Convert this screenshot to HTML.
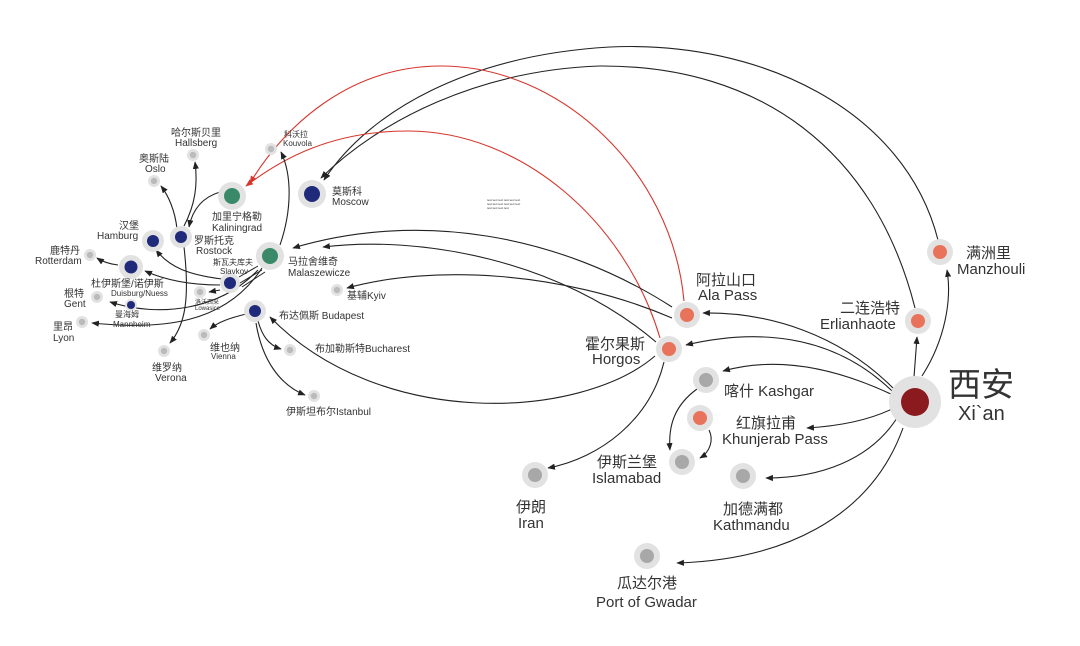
<!DOCTYPE html>
<html><head><meta charset="utf-8"><style>
html,body{margin:0;padding:0;background:#fff;}
svg{display:block;font-family:"Liberation Sans","Noto Sans CJK SC",sans-serif;}
.e{fill:none;stroke:#222;stroke-width:1.1;marker-end:url(#a);}
.r{fill:none;stroke:#d6362c;stroke-width:1.1;marker-end:url(#ar);}
.o{fill:#e2e2e2;}
text{fill:#333;}
</style></head><body>
<svg width="1080" height="646" viewBox="0 0 1080 646" xmlns="http://www.w3.org/2000/svg">
<defs>
<marker id="a" viewBox="0 0 10 10" refX="9" refY="5" markerWidth="7" markerHeight="7" orient="auto"><path d="M0,1 L10,5 L0,9 z" fill="#222"/></marker>
<marker id="ar" viewBox="0 0 10 10" refX="9" refY="5" markerWidth="7" markerHeight="7" orient="auto"><path d="M0,1 L10,5 L0,9 z" fill="#d6362c"/></marker>
</defs>

<!-- long arcs -->
<path class="e" d="M938,240 C905,110 760,40 610,47 C470,55 370,110 324,180"/>
<path class="e" d="M915,308 C875,150 760,65 600,66 C480,70 380,120 321,178"/>
<path class="r" d="M684,301 C672,170 560,66 441,66 C350,66 285,125 250,183"/>
<path class="r" d="M660,338 C625,220 520,131 408,131 C330,131 280,160 246,186"/>

<!-- Xi'an edges -->
<path class="e" d="M893,388 C840,335 770,312 703,313"/>
<path class="e" d="M893,392 C830,330 750,330 686,345"/>
<path class="e" d="M893,395 C840,370 780,355 723,371"/>
<path class="e" d="M894,408 C870,420 840,426 807,428"/>
<path class="e" d="M897,418 C870,460 820,478 766,478"/>
<path class="e" d="M903,428 C870,520 780,560 677,563"/>
<path class="e" d="M914,377 L917,337"/>
<path class="e" d="M922,376 C945,340 952,300 947,270"/>

<!-- Horgos / Ala to Europe -->
<path class="e" d="M672,307 C560,235 420,210 293,248"/>
<path class="e" d="M656,342 C560,260 420,235 323,247"/>
<path class="e" d="M672,318 C560,270 430,265 347,288"/>
<path class="e" d="M655,356 C580,420 380,430 270,317"/>
<path class="e" d="M664,362 C650,420 600,458 548,468"/>
<path class="e" d="M697,389 C675,405 668,425 670,450"/>
<path class="e" d="M709,430 C714,440 710,452 700,458"/>

<!-- Europe edges -->
<path class="e" d="M280,245 C292,210 292,175 281,152"/>
<path class="e" d="M220,192 C200,198 192,212 189,227"/>
<path class="e" d="M177,229 C175,210 168,195 161,186"/>
<path class="e" d="M184,226 C195,205 198,185 195,162"/>
<path class="e" d="M184,247 C190,300 185,325 170,343"/>
<path class="e" d="M222,279 C190,275 170,268 156,250"/>
<path class="e" d="M220,285 C190,285 165,280 145,271"/>
<path class="e" d="M118,265 C110,264 103,262 97,258"/>
<path class="e" d="M258,270 C220,310 160,318 110,302"/>
<path class="e" d="M262,268 C225,325 160,330 92,323"/>
<path class="e" d="M220,290 L209,292"/>
<path fill="none" stroke="#222" stroke-width="1" d="M258,266 L239,277 M262,270 L240,283 M265,272 L242,287"/>
<path class="e" d="M246,314 C230,318 218,322 210,329"/>
<path class="e" d="M258,321 C262,335 268,345 281,349"/>
<path class="e" d="M256,323 C262,360 280,385 305,395"/>

<!-- nodes -->
<circle class="o" cx="915" cy="402" r="26"/><circle cx="915" cy="402" r="14" fill="#8b1a1f"/>
<circle class="o" cx="940" cy="252" r="13"/><circle cx="940" cy="252" r="7" fill="#e8735a"/>
<circle class="o" cx="918" cy="321" r="13"/><circle cx="918" cy="321" r="7" fill="#e8735a"/>
<circle class="o" cx="687" cy="315" r="13"/><circle cx="687" cy="315" r="7" fill="#e8735a"/>
<circle class="o" cx="669" cy="349" r="13"/><circle cx="669" cy="349" r="7" fill="#e8735a"/>
<circle class="o" cx="706" cy="380" r="13"/><circle cx="706" cy="380" r="7" fill="#a8a8a8"/>
<circle class="o" cx="700" cy="418" r="13"/><circle cx="700" cy="418" r="7" fill="#e8735a"/>
<circle class="o" cx="682" cy="462" r="13"/><circle cx="682" cy="462" r="7" fill="#a8a8a8"/>
<circle class="o" cx="743" cy="476" r="13"/><circle cx="743" cy="476" r="7" fill="#a8a8a8"/>
<circle class="o" cx="535" cy="475" r="13"/><circle cx="535" cy="475" r="7" fill="#a8a8a8"/>
<circle class="o" cx="647" cy="556" r="13"/><circle cx="647" cy="556" r="7" fill="#a8a8a8"/>

<circle class="o" cx="312" cy="194" r="14"/><circle cx="312" cy="194" r="8" fill="#1f2a7a"/>
<circle class="o" cx="232" cy="196" r="14"/><circle cx="232" cy="196" r="8" fill="#3a8a6a"/>
<circle class="o" cx="270" cy="256" r="14"/><circle cx="270" cy="256" r="8" fill="#3a8a6a"/>
<circle class="o" cx="181" cy="237" r="11"/><circle cx="181" cy="237" r="6" fill="#1f2a7a"/>
<circle class="o" cx="153" cy="241" r="11"/><circle cx="153" cy="241" r="6" fill="#1f2a7a"/>
<circle class="o" cx="131" cy="267" r="12"/><circle cx="131" cy="267" r="6.5" fill="#1f2a7a"/>
<circle class="o" cx="230" cy="283" r="10"/><circle cx="230" cy="283" r="6" fill="#1f2a7a"/>
<circle class="o" cx="255" cy="311" r="11"/><circle cx="255" cy="311" r="6" fill="#1f2a7a"/>
<circle class="o" cx="131" cy="305" r="6"/><circle cx="131" cy="305" r="4" fill="#1f2a7a"/>
<g fill="#bbb">
<circle class="o" cx="90" cy="255" r="6"/><circle cx="90" cy="255" r="3.2"/>
<circle class="o" cx="200" cy="292" r="6"/><circle cx="200" cy="292" r="3.2"/>
<circle class="o" cx="97" cy="297" r="6"/><circle cx="97" cy="297" r="3.2"/>
<circle class="o" cx="82" cy="322" r="6"/><circle cx="82" cy="322" r="3.2"/>
<circle class="o" cx="337" cy="290" r="6"/><circle cx="337" cy="290" r="3.2"/>
<circle class="o" cx="204" cy="335" r="6"/><circle cx="204" cy="335" r="3.2"/>
<circle class="o" cx="290" cy="350" r="6"/><circle cx="290" cy="350" r="3.2"/>
<circle class="o" cx="314" cy="396" r="6"/><circle cx="314" cy="396" r="3.2"/>
<circle class="o" cx="164" cy="351" r="6"/><circle cx="164" cy="351" r="3.2"/>
<circle class="o" cx="154" cy="181" r="6"/><circle cx="154" cy="181" r="3.2"/>
<circle class="o" cx="193" cy="155" r="6"/><circle cx="193" cy="155" r="3.2"/>
<circle class="o" cx="271" cy="149" r="6"/><circle cx="271" cy="149" r="3.2"/>
</g>

<!-- labels -->
<g font-size="33"><text x="948" y="396">西安</text></g>
<g font-size="20"><text x="958" y="420">Xi`an</text></g>
<g font-size="15">
<text x="966" y="258">满洲里</text><text x="957" y="274">Manzhouli</text>
<text x="840" y="313">二连浩特</text><text x="820" y="329">Erlianhaote</text>
<text x="696" y="285">阿拉山口</text><text x="698" y="300">Ala Pass</text>
<text x="585" y="349">霍尔果斯</text><text x="592" y="364">Horgos</text>
<text x="724" y="396">喀什 Kashgar</text>
<text x="736" y="428">红旗拉甫</text><text x="722" y="444">Khunjerab Pass</text>
<text x="597" y="467">伊斯兰堡</text><text x="592" y="483">Islamabad</text>
<text x="516" y="512">伊朗</text><text x="518" y="528">Iran</text>
<text x="723" y="514">加德满都</text><text x="713" y="530">Kathmandu</text>
<text x="617" y="588">瓜达尔港</text><text x="596" y="607">Port of Gwadar</text>
</g>
<g font-size="10">
<text x="332" y="195">莫斯科</text><text x="332" y="205">Moscow</text>
<text x="212" y="220">加里宁格勒</text><text x="212" y="231">Kaliningrad</text>
<text x="288" y="265">马拉舍维奇</text><text x="288" y="276">Malaszewicze</text>
<text x="194" y="244">罗斯托克</text><text x="196" y="254">Rostock</text>
<text x="119" y="229">汉堡</text><text x="97" y="239">Hamburg</text>
<text x="50" y="254">鹿特丹</text><text x="35" y="264">Rotterdam</text>
<text x="91" y="287">杜伊斯堡/诺伊斯</text>
<text x="64" y="297">根特</text><text x="64" y="307">Gent</text>
<text x="53" y="330">里昂</text><text x="53" y="341">Lyon</text>
<text x="347" y="299">基辅Kyiv</text>
<text x="279" y="319">布达佩斯 Budapest</text>
<text x="315" y="352">布加勒斯特Bucharest</text>
<text x="286" y="415">伊斯坦布尔Istanbul</text>
<text x="210" y="351">维也纳</text>
<text x="152" y="371">维罗纳</text><text x="155" y="381">Verona</text>
<text x="139" y="162">奥斯陆</text><text x="145" y="172">Oslo</text>
<text x="171" y="136">哈尔斯贝里</text><text x="175" y="146">Hallsberg</text>
</g>
<g font-size="8">
<text x="284" y="137">科沃拉</text><text x="283" y="146">Kouvola</text>
<text x="213" y="265">斯瓦夫库夫</text><text x="220" y="274">Slavkov</text>
<text x="111" y="296">Duisburg/Nuess</text>
<text x="115" y="317">曼海姆</text><text x="113" y="327">Mannheim</text>
<text x="211" y="359">Vienna</text>
</g>
<g font-size="6"><text x="195" y="304">洛沃西采</text><text x="195" y="310">Lowasice</text></g>
<g font-size="3" fill="#aaa"><text x="487" y="201">text text text text text text</text><text x="487" y="205">text text text text text text</text><text x="487" y="209">text text text text</text></g>
</svg>
</body></html>
